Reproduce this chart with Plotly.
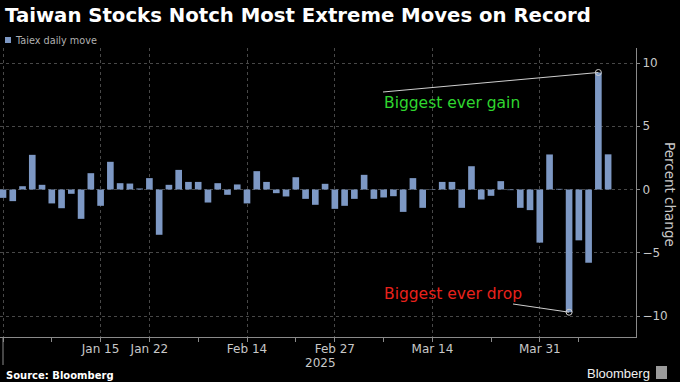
import plotly.graph_objects as go

# ---------------- data ----------------
dates = [
    "2024-12-31", "2025-01-02", "2025-01-03", "2025-01-06", "2025-01-07", "2025-01-08",
    "2025-01-09", "2025-01-10", "2025-01-13", "2025-01-14", "2025-01-15", "2025-01-16",
    "2025-01-17", "2025-01-20", "2025-01-21", "2025-01-22", "2025-02-03", "2025-02-04",
    "2025-02-05", "2025-02-06", "2025-02-07", "2025-02-10", "2025-02-11", "2025-02-12",
    "2025-02-13", "2025-02-14", "2025-02-17", "2025-02-18", "2025-02-19", "2025-02-20",
    "2025-02-21", "2025-02-24", "2025-02-25", "2025-02-26", "2025-02-27", "2025-03-03",
    "2025-03-04", "2025-03-05", "2025-03-06", "2025-03-07", "2025-03-10", "2025-03-11",
    "2025-03-12", "2025-03-13", "2025-03-14", "2025-03-17", "2025-03-18", "2025-03-19",
    "2025-03-20", "2025-03-21", "2025-03-24", "2025-03-25", "2025-03-26", "2025-03-27",
    "2025-03-28", "2025-03-31", "2025-04-01", "2025-04-02", "2025-04-07", "2025-04-08",
    "2025-04-09", "2025-04-10", "2025-04-11",
]
taiex_move = [
    -0.66, -0.92, 0.26, 2.74, 0.37, -1.10,
    -1.48, -0.34, -2.32, 1.29, -1.29, 2.19,
    0.50, 0.47, 0.08, 0.90, -3.58, 0.37,
    1.55, 0.60, 0.60, -1.03, 0.50, -0.42,
    0.40, -1.10, 1.45, 0.60, -0.29, -0.55,
    0.97, -0.74, -1.21, 0.45, -1.53, -1.29,
    -0.74, 1.16, -0.74, -0.63, -0.53, -1.77,
    0.90, -1.45, -0.03, 0.60, 0.60, -1.45,
    1.84, -0.79, -0.50, 0.66, -0.05, -1.45,
    -1.63, -4.20, 2.77, 0.05, -9.70, -4.02,
    -5.79, 9.25, 2.78,
]
tick_dates = ["2024-12-31", "2025-01-15", "2025-01-22", "2025-02-14", "2025-02-27", "2025-03-14", "2025-03-31"]
tick_labels = ["", "Jan 15", "Jan 22", "Feb 14", "Feb 27", "Mar 14", "Mar 31"]
minor_tick_dates = ["2025-01-08", "2025-02-07", "2025-02-21", "2025-03-07", "2025-03-24", "2025-04-08"]
y_ticks = [-10, -5, 0, 5, 10]
year_label = "2025"

# ---------------- layout helpers ----------------
W, H = 680, 382
PL, PR, PT, PB = 0, 636, 48, 337   # plot area in pixels


def px_x(p):
    return (p - PL) / (PR - PL)


def px_y(p):
    return (PB - p) / (PB - PT)


xi = list(range(len(dates)))
tick_idx = [dates.index(d) for d in tick_dates]
minor_idx = [dates.index(d) for d in minor_tick_dates]

spacing = 9.76
x0 = -3 / spacing
x_range = [x0, x0 + (PR - PL) / spacing]
scale = 12.65
y_range = [-10 - (PB - 316) / scale, 10 + (63 - PT) / scale]

bar_color = "#7d98c4"
grid_color = "#484848"
axis_color = "#8a8a8a"
text_gray = "#c8c8c8"

fig = go.Figure()
fig.add_trace(go.Bar(x=xi, y=taiex_move, marker=dict(color=bar_color, line=dict(width=0)),
                     name="Taiex daily move", showlegend=False, hoverinfo="skip"))

i_max = taiex_move.index(max(taiex_move))
i_min = taiex_move.index(min(taiex_move))
fig.add_trace(go.Scatter(x=[xi[i_max], xi[i_min]], y=[taiex_move[i_max], taiex_move[i_min]],
                         mode="markers", showlegend=False, hoverinfo="skip",
                         marker=dict(symbol="circle-open", size=6, color="#cfcfcf", line=dict(width=1))))

shapes = []
annotations = []

# connector lines
gain_start = ((383 - 3) / spacing, (189.5 - 92) / scale)
drop_start = ((513 - 3) / spacing, (189.5 - 304) / scale)
shapes.append(dict(type="line", xref="x", yref="y", x0=gain_start[0], y0=gain_start[1],
                   x1=xi[i_max], y1=taiex_move[i_max], line=dict(color="#cfcfcf", width=1)))
shapes.append(dict(type="line", xref="x", yref="y", x0=drop_start[0], y0=drop_start[1],
                   x1=xi[i_min], y1=taiex_move[i_min], line=dict(color="#cfcfcf", width=1)))

annotations.append(dict(text="Biggest ever gain", xref="paper", yref="paper", x=px_x(382), y=px_y(103),
                        xanchor="left", yanchor="middle", showarrow=False,
                        font=dict(family="DejaVu Sans", size=15.5, color="#2fd62f")))
annotations.append(dict(text="Biggest ever drop", xref="paper", yref="paper", x=px_x(382), y=px_y(294),
                        xanchor="left", yanchor="middle", showarrow=False,
                        font=dict(family="DejaVu Sans", size=15.5, color="#e8221c")))

# axis title (reads top-to-bottom)
annotations.append(dict(text="Percent change", xref="paper", yref="paper", x=px_x(670), y=px_y(194),
                        xanchor="center", yanchor="middle", textangle=90, showarrow=False,
                        font=dict(family="DejaVu Sans", size=13.5, color=text_gray)))

# year label and separator
annotations.append(dict(text=year_label, xref="paper", yref="paper", x=px_x(320), y=px_y(363),
                        xanchor="center", yanchor="middle", showarrow=False,
                        font=dict(family="DejaVu Sans", size=12, color=text_gray)))
shapes.append(dict(type="line", xref="x", yref="paper", x0=xi[0], x1=xi[0], y0=0, y1=px_y(365),
                   line=dict(color=axis_color, width=1)))

# legend
shapes.append(dict(type="rect", xref="paper", yref="paper", x0=px_x(5), x1=px_x(11),
                   y0=px_y(43), y1=px_y(37), fillcolor=bar_color, line=dict(width=0)))
annotations.append(dict(text="Taiex daily move", xref="paper", yref="paper", x=px_x(13), y=px_y(40),
                        xanchor="left", yanchor="middle", showarrow=False,
                        font=dict(family="DejaVu Sans", size=9.7, color="#b0b0b0")))

# footer
annotations.append(dict(text="<b>Source: Bloomberg</b>", xref="paper", yref="paper", x=px_x(4), y=px_y(375),
                        xanchor="left", yanchor="middle", showarrow=False,
                        font=dict(family="DejaVu Sans", size=10, color="#ffffff")))
annotations.append(dict(text="Bloomberg", xref="paper", yref="paper", x=px_x(652), y=px_y(373),
                        xanchor="right", yanchor="middle", showarrow=False,
                        font=dict(family="Liberation Sans", size=13, color="#f0f0f0")))
shapes.append(dict(type="rect", xref="paper", yref="paper", x0=px_x(656), x1=px_x(667),
                   y0=px_y(379), y1=px_y(366), fillcolor="#9a9a9a", line=dict(width=0)))

fig.update_layout(
    width=W, height=H,
    margin=dict(l=PL, r=W - PR, t=PT, b=H - PB, pad=0),
    paper_bgcolor="#000000", plot_bgcolor="#000000",
    bargap=0.32,
    hovermode=False,
    title=dict(text="<b>Taiwan Stocks Notch Most Extreme Moves on Record</b>",
               x=5 / W, xref="container", xanchor="left",
               y=1 - 15 / H, yref="container", yanchor="middle",
               font=dict(family="DejaVu Sans", size=19.7, color="#ffffff")),
    xaxis=dict(range=x_range, tickmode="array", tickvals=tick_idx, ticktext=tick_labels,
               showgrid=True, gridcolor=grid_color, griddash="dot", gridwidth=1,
               showline=True, linecolor=axis_color, linewidth=1, zeroline=False,
               ticks="outside", ticklen=4, tickcolor=axis_color, ticklabelstandoff=-3,
               tickfont=dict(family="DejaVu Sans", size=12, color=text_gray),
               minor=dict(tickmode="array", tickvals=minor_idx, ticks="outside", ticklen=4,
                          tickcolor=axis_color, showgrid=False),
               fixedrange=True),
    yaxis=dict(side="right", range=y_range, tickmode="array", tickvals=y_ticks,
               showgrid=True, gridcolor=grid_color, griddash="dot", gridwidth=1,
               showline=True, linecolor=axis_color, linewidth=1, zeroline=False,
               ticks="outside", ticklen=3, tickcolor=axis_color,
               tickfont=dict(family="DejaVu Sans", size=12, color=text_gray),
               fixedrange=True),
    shapes=shapes, annotations=annotations,
    showlegend=False,
)

fig.write_html("out.html", config={"displayModeBar": False, "staticPlot": True},
               post_script="document.body.style.margin='0';document.body.style.background='#000';")
